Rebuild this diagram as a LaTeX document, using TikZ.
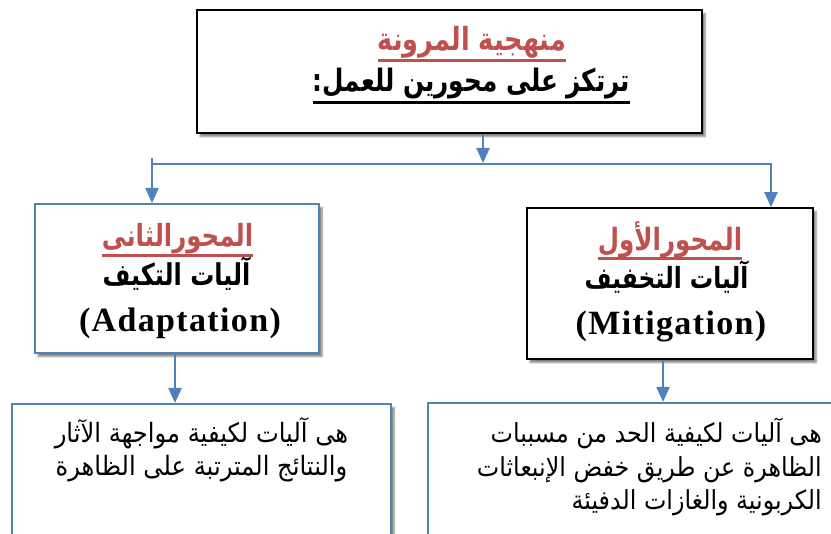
\documentclass[tikz,border=0pt]{standalone}
\usepackage{graphicx}
\usepackage{fontspec}
\TeXXeTstate=1
\newfontfamily\arabicfont[Script=Arabic]{DejaVu Sans}
\newfontfamily\latinserif[LetterSpace=4]{Liberation Serif}
\usetikzlibrary{arrows.meta,shadows.blur}
\definecolor{ublue}{HTML}{4F81BD}
\definecolor{ured}{HTML}{C0504D}
\newcommand\arb[1]{\scalebox{1}[1.25]{\arabicfont\beginR #1\endR}}
\newcommand\ar[1]{\scalebox{1}[1.1]{\arabicfont\beginR #1\endR}}
\newcommand\fs[1]{\fontsize{#1}{#1}\selectfont}
\begin{document}
\begin{tikzpicture}[x=1pt,y=-1pt,
  box/.style={draw, fill=white, inner sep=0pt,
    blur shadow={shadow xshift=3pt, shadow yshift=-3.5pt, shadow blur steps=6, shadow opacity=50}},
  blackbox/.style={box, draw=black, line width=1.5pt},
  bluebox/.style={box, draw=ublue, line width=2pt},
  arr/.style={draw=ublue, line width=2.2pt, -{Triangle[width=13pt,length=15pt]}},
  link/.style={draw=ublue, line width=2.2pt},
  txt/.style={inner sep=0pt, anchor=base},
  head/.style={txt, text=ured},
  sub/.style={txt, text=black},
  latin/.style={txt, text=black, font=\latinserif\bfseries\fs{34}},
  body/.style={txt, text=black},
  uline/.style={line width=3pt}]
\useasboundingbox (0,0) rectangle (831,534);
% boxes
\node[blackbox, minimum width=505pt, minimum height=123pt] (top) at (449.5,71.5) {};
\node[bluebox, minimum width=284pt, minimum height=149pt] (lbox) at (177,278.5) {};
\node[blackbox, minimum width=286pt, minimum height=151pt] (rbox) at (670,283.5) {};
\node[bluebox, minimum width=379pt, minimum height=160pt] (lbot) at (201.5,484) {};
\node[bluebox, minimum width=430pt, minimum height=160pt] (rbot) at (643,483) {};
% top texts
\node[head, font=\bfseries\fs{25.5}] (t1) at (472,51) {\arb{منهجية المرونة}};
\draw[uline, ured] ([yshift=-10pt]t1.base west) -- ([yshift=-10pt]t1.base east);
\node[sub, font=\bfseries\fs{24.7}] (t2) at (471.5,92) {\arb{ترتكز على محورين للعمل:}};
\draw[uline, black] ([yshift=-11pt]t2.base west) -- ([yshift=-11pt]t2.base east);
% left box texts
\node[head, font=\bfseries\fs{24.4}] (l1) at (177.5,247) {\arb{المحورالثانى}};
\draw[uline, ured] ([yshift=-9pt]l1.base west) -- ([yshift=-9pt]l1.base east);
\node[sub, font=\bfseries\fs{24}] (l2) at (176.5,286) {\arb{آليات التكيف}};
\node[latin] (l3) at (180,332) {(Adaptation)};
% right box texts
\node[head, font=\bfseries\fs{24.5}] (r1) at (670,251) {\arb{المحورالأول}};
\draw[uline, ured] ([yshift=-8pt]r1.base west) -- ([yshift=-8pt]r1.base east);
\node[sub, font=\bfseries\fs{23.3}] (r2) at (666.5,289) {\arb{آليات التخفيف}};
\node[latin] (r3) at (671,335) {(Mitigation)};
% bottom texts
\node[body, font=\fs{24.2}] (b1) at (201.5,443) {\ar{هى آليات لكيفية مواجهة الآثار}};
\node[body, font=\fs{24.2}] (b2) at (201.5,476) {\ar{والنتائج المترتبة على الظاهرة}};
\node[body, font=\fs{23.8}, anchor=base east] (c1) at (822,443) {\ar{هى آليات لكيفية الحد من مسببات}};
\node[body, font=\fs{23.8}, anchor=base east] (c2) at (822,477) {\ar{الظاهرة عن طريق خفض الإنبعاثات}};
\node[body, font=\fs{23.8}, anchor=base east] (c3) at (822,510) {\ar{الكربونية والغازات الدفيئة}};
% connectors
\coordinate (split) at (483,164);
\coordinate (hl) at (152,164);
\coordinate (hr) at (771,164);
\draw[arr] (top.south -| split) -- ([yshift=1pt]split);
\draw[link] ([xshift=-1.1pt]hl) -- ([xshift=1.1pt]hr);
\draw[arr] ([yshift=6pt]hl) -- (hl |- lbox.north);
\draw[arr] (hr) -- (hr |- rbox.north);
\coordinate (ld) at (175,0);
\coordinate (rd) at (663,0);
\draw[arr] (lbox.south -| ld) -- (lbot.north -| ld);
\draw[arr] (rbox.south -| rd) -- (rbot.north -| rd);
\end{tikzpicture}
\end{document}
